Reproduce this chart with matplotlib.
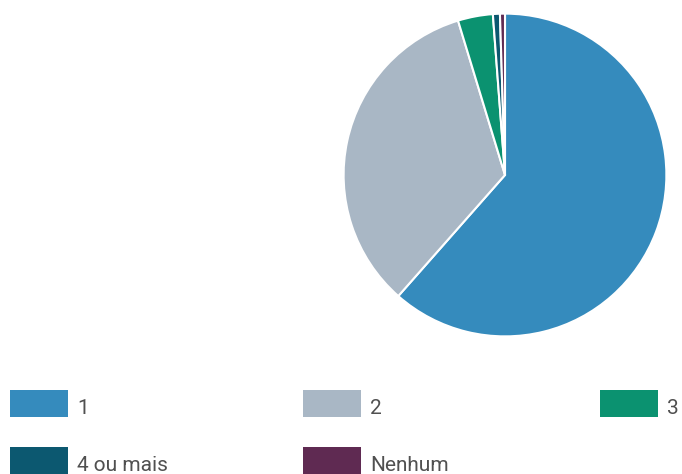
import matplotlib.pyplot as plt
from matplotlib.patches import Rectangle

# share of answers per category
labels = ['1', '2', '3', '4 ou mais', 'Nenhum']
shares = [61.5, 33.8, 3.5, 0.7, 0.5]
colors = ['#358bbd', '#a9b7c5', '#0b9270', '#0c5870', '#5f2a52']

W, H = 682, 474
fig = plt.figure(figsize=(W / 100, H / 100), dpi=100)

# pie centred at (505, 175) px with a 163 px radius
cx, cy, r = 505, 175, 163
ax = fig.add_axes([(cx - r) / W, (H - cy - r) / H, 2 * r / W, 2 * r / H])
ax.pie(shares, colors=colors, startangle=90, counterclock=False,
       wedgeprops=dict(edgecolor='white', linewidth=1.5))
ax.set_xlim(-1.01, 1.01)
ax.set_ylim(-1.01, 1.01)
ax.set_aspect('equal')
ax.axis('off')

# legend: three columns, two rows
col_x = [10, 303, 600]
row_y = [390, 447]
for i, (lab, col) in enumerate(zip(labels, colors)):
    x0 = col_x[i % 3]
    y0 = row_y[i // 3]
    fig.patches.append(Rectangle((x0 / W, 1 - (y0 + 27) / H), 58 / W, 27 / H,
                                 transform=fig.transFigure, facecolor=col,
                                 edgecolor='none'))
    fig.text((x0 + 67) / W, 1 - (y0 + 24) / H, lab, fontsize=15,
             family=['Roboto', 'DejaVu Sans'],
             color='#505050', va='baseline', ha='left')

fig.savefig('out.png', dpi=100)
